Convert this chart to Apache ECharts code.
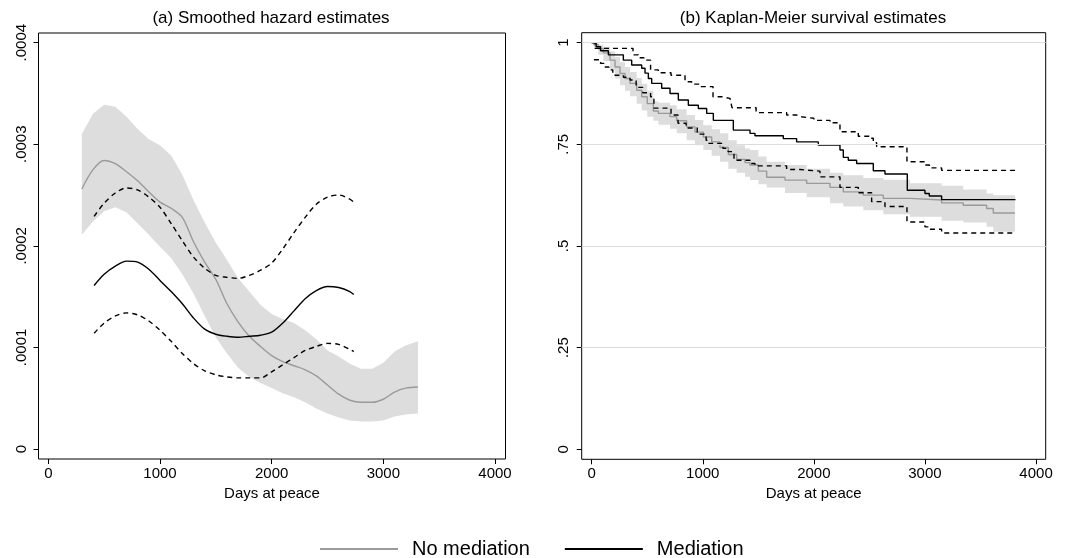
<!DOCTYPE html>
<html><head><meta charset="utf-8">
<script src="https://cdn.jsdelivr.net/npm/echarts@6/dist/echarts.min.js"></script>
<style>html,body{margin:0;padding:0;background:#fff}#c{width:1083px;height:558px}</style>
</head><body><div id="c"></div>
<script>
// ---- tick labels ----
const xTicks = [0, 1000, 2000, 3000, 4000];
const hazYTicks = [0, 0.0001, 0.0002, 0.0003, 0.0004];
const hazYLabels = ['0', '.0001', '.0002', '.0003', '.0004'];
const kmYTicks = [0, 0.25, 0.5, 0.75, 1];
const kmYLabels = ['0', '.25', '.5', '.75', '1'];
const kmGridVals = [0.25, 0.5, 0.75, 1];

// ---- (a) smoothed hazard: no mediation ----
const hazNoMedDays = [300,400,500,600,700,800,900,1000,1100,1200,1300,1400,1500,1600,1700,1800,1900,2000,2100,2200,2300,2400,2500,2600,2700,2800,2900,3000,3100,3200,3310];
const hazNoMed   = [2.56e-4,2.75e-4,2.84e-4,2.81e-4,2.73e-4,2.64e-4,2.53e-4,2.43e-4,2.37e-4,2.28e-4,2.04e-4,1.84e-4,1.67e-4,1.43e-4,1.25e-4,1.11e-4,1.01e-4,0.92e-4,0.86e-4,0.82e-4,0.78e-4,0.72e-4,0.63e-4,0.54e-4,0.48e-4,0.46e-4,0.46e-4,0.49e-4,0.56e-4,0.60e-4,0.61e-4];
const hazNoMedHi = [3.10e-4,3.30e-4,3.39e-4,3.37e-4,3.27e-4,3.15e-4,3.05e-4,2.99e-4,2.89e-4,2.70e-4,2.45e-4,2.23e-4,2.03e-4,1.86e-4,1.68e-4,1.55e-4,1.42e-4,1.33e-4,1.28e-4,1.24e-4,1.17e-4,1.08e-4,0.97e-4,0.91e-4,0.84e-4,0.79e-4,0.79e-4,0.85e-4,0.96e-4,1.02e-4,1.06e-4];
const hazNoMedLo = [2.11e-4,2.24e-4,2.34e-4,2.38e-4,2.33e-4,2.22e-4,2.11e-4,1.99e-4,1.88e-4,1.72e-4,1.53e-4,1.31e-4,1.10e-4,0.94e-4,0.80e-4,0.71e-4,0.65e-4,0.60e-4,0.55e-4,0.51e-4,0.46e-4,0.40e-4,0.35e-4,0.31e-4,0.28e-4,0.27e-4,0.27e-4,0.28e-4,0.32e-4,0.34e-4,0.35e-4];

// ---- (a) smoothed hazard: mediation ----
const hazMedDays = [410,500,600,700,800,900,1000,1100,1200,1300,1400,1500,1600,1700,1800,1900,2000,2100,2200,2300,2400,2500,2600,2700,2735];
const hazMed   = [1.61e-4,1.72e-4,1.80e-4,1.85e-4,1.84e-4,1.77e-4,1.66e-4,1.55e-4,1.43e-4,1.29e-4,1.18e-4,1.13e-4,1.11e-4,1.10e-4,1.11e-4,1.12e-4,1.15e-4,1.24e-4,1.36e-4,1.48e-4,1.56e-4,1.60e-4,1.59e-4,1.55e-4,1.52e-4];
const hazMedHi = [2.29e-4,2.42e-4,2.52e-4,2.57e-4,2.55e-4,2.48e-4,2.38e-4,2.22e-4,2.05e-4,1.89e-4,1.78e-4,1.71e-4,1.69e-4,1.68e-4,1.71e-4,1.76e-4,1.83e-4,1.97e-4,2.13e-4,2.28e-4,2.41e-4,2.48e-4,2.50e-4,2.46e-4,2.43e-4];
const hazMedLo = [1.14e-4,1.24e-4,1.31e-4,1.34e-4,1.32e-4,1.26e-4,1.17e-4,1.06e-4,0.94e-4,0.84e-4,0.77e-4,0.73e-4,0.71e-4,0.70e-4,0.70e-4,0.70e-4,0.76e-4,0.83e-4,0.90e-4,0.97e-4,1.01e-4,1.04e-4,1.03e-4,0.98e-4,0.96e-4];

// ---- (b) Kaplan-Meier: no mediation ----
const kmNoMedDays = [0,20,60,105,165,210,255,300,345,405,450,500,555,600,705,765,855,930,1005,1080,1155,1230,1305,1380,1425,1500,1575,1740,1935,2145,2265,2445,2625,2865,3150,3345,3555,3615,3810];
const kmNoMed   = [1,0.995,0.985,0.975,0.957,0.940,0.924,0.912,0.900,0.883,0.867,0.850,0.832,0.826,0.818,0.808,0.793,0.780,0.768,0.756,0.742,0.725,0.713,0.705,0.699,0.684,0.669,0.662,0.654,0.644,0.633,0.625,0.617,0.613,0.606,0.600,0.592,0.581,0.581];
const kmNoMedHi = [1,1.000,0.995,0.990,0.978,0.965,0.952,0.940,0.928,0.913,0.899,0.882,0.855,0.852,0.846,0.836,0.822,0.810,0.797,0.787,0.777,0.760,0.748,0.740,0.736,0.720,0.707,0.699,0.690,0.680,0.674,0.667,0.663,0.654,0.648,0.639,0.629,0.625,0.625];
const kmNoMedLo = [1,0.985,0.970,0.955,0.932,0.912,0.895,0.882,0.868,0.850,0.833,0.818,0.808,0.798,0.788,0.777,0.760,0.748,0.736,0.722,0.707,0.690,0.680,0.670,0.662,0.652,0.644,0.630,0.620,0.605,0.597,0.588,0.578,0.572,0.562,0.558,0.547,0.535,0.535];

// ---- (b) Kaplan-Meier: mediation ----
const kmMedDays = [0,40,80,150,285,360,450,480,510,540,630,705,780,870,960,1035,1095,1275,1425,1470,1725,1845,2040,2235,2265,2310,2385,2535,2640,2841,3000,3039,3150,3815];
const kmMed = [1,0.990,0.980,0.970,0.957,0.945,0.937,0.925,0.912,0.900,0.888,0.875,0.859,0.846,0.838,0.826,0.809,0.785,0.777,0.771,0.764,0.756,0.748,0.736,0.718,0.711,0.703,0.685,0.677,0.637,0.629,0.623,0.614,0.614];
const kmMedHiDays = [0,30,372,420,470,530,600,714,840,900,966,1092,1170,1245,1263,1480,1755,1845,1875,2000,2145,2235,2400,2505,2535,2565,2838,3000,3040,3150,3815];
const kmMedHi = [1,0.986,0.970,0.963,0.957,0.933,0.926,0.920,0.904,0.898,0.892,0.867,0.863,0.859,0.840,0.828,0.822,0.818,0.814,0.809,0.803,0.781,0.770,0.765,0.754,0.744,0.707,0.699,0.692,0.686,0.686];
const kmMedLoDays = [20,80,120,155,190,285,345,400,460,530,560,714,777,850,950,1030,1056,1182,1228,1281,1425,1470,1755,1875,2055,2235,2400,2520,2640,2838,3000,3040,3150,3815];
const kmMedLo = [0.958,0.949,0.940,0.933,0.920,0.915,0.908,0.890,0.877,0.867,0.839,0.822,0.802,0.790,0.775,0.760,0.752,0.740,0.732,0.711,0.703,0.697,0.688,0.684,0.670,0.644,0.631,0.609,0.597,0.559,0.547,0.541,0.532,0.532];

const FONT = "'Liberation Sans', Arial, sans-serif";
const GRAY = '#9a9a9a', BAND = '#dddddd', BLACK = '#000000';
const pairs = (xs, ys) => xs.map((x, i) => [x, ys[i]]);
const lab = (ticks, labels) => v => { const i = ticks.findIndex(t => Math.abs(t - v) < 1e-9); return i >= 0 ? labels[i] : ''; };

function xAx(gi, min, max) {
  return {
    gridIndex: gi, type: 'value', min: min, max: max,
    axisLine: { show: false, onZero: false },
    axisTick: { show: true, inside: false, length: 5, customValues: xTicks, lineStyle: { color: '#000', width: 1 } },
    axisLabel: { customValues: xTicks, formatter: v => String(Math.round(v)), fontSize: 15, color: '#000', fontFamily: FONT, margin: 7 },
    splitLine: { show: false },
    name: 'Days at peace', nameLocation: 'middle', nameGap: 25,
    nameTextStyle: { fontSize: 15, color: '#000', fontFamily: FONT }
  };
}
function yAx(gi, min, max, ticks, labels, margin) {
  return {
    gridIndex: gi, type: 'value', min: min, max: max,
    axisLine: { show: false, onZero: false },
    axisTick: { show: true, inside: false, length: 5, customValues: ticks, lineStyle: { color: '#000', width: 1 } },
    axisLabel: { customValues: ticks, formatter: lab(ticks, labels), rotate: 90, fontSize: 15, color: '#000', fontFamily: FONT, margin: margin },
    splitLine: { show: false }
  };
}
const lineS = (name, gi, data, color, dashed, step, z) => ({
  name: name, type: 'line', xAxisIndex: gi, yAxisIndex: gi, data: data,
  showSymbol: false, symbol: 'none', step: step || false, smooth: step ? false : 0.3,
  lineStyle: { color: color, width: 1.4, type: dashed ? [5, 4] : 'solid' },
  itemStyle: { color: color }, z: z || 4, silent: true
});
// confidence band drawn as one polygon through the axes' coordinate mapping
function bandS(gi, xs, hi, lo, step) {
  return {
    name: 'band', type: 'custom', xAxisIndex: gi, yAxisIndex: gi, z: 2, silent: true,
    data: xs.map((x, i) => [x, lo[i], hi[i]]),
    encode: { x: 0, y: [1, 2] },
    renderItem: (params, api) => {
      if (params.dataIndex !== 0) return null;
      const top = [], bot = [];
      for (let i = 0; i < xs.length; i++) {
        top.push(api.coord([xs[i], hi[i]]));
        bot.push(api.coord([xs[i], lo[i]]));
        if (step && i < xs.length - 1) {
          top.push(api.coord([xs[i + 1], hi[i]]));
          bot.push(api.coord([xs[i + 1], lo[i]]));
        }
      }
      return { type: 'polygon', shape: { points: top.concat(bot.reverse()) }, style: { fill: BAND, stroke: null } };
    }
  };
}

const chart = echarts.init(document.getElementById('c'), null, { renderer: 'canvas' });
chart.setOption({
  animation: false,
  backgroundColor: '#fff',
  textStyle: { fontFamily: FONT },
  title: [
    { text: '(a) Smoothed hazard estimates', left: 271, top: 10, textAlign: 'center', padding: 0,
      textStyle: { fontSize: 17, fontWeight: 'normal', color: '#000', fontFamily: FONT } },
    { text: '(b) Kaplan-Meier survival estimates', left: 813, top: 10, textAlign: 'center', padding: 0,
      textStyle: { fontSize: 17, fontWeight: 'normal', color: '#000', fontFamily: FONT } }
  ],
  legend: {
    data: [{ name: 'No mediation' }, { name: 'Mediation' }],
    left: 320, top: 539, icon: 'rect', itemWidth: 78, itemHeight: 2, itemGap: 35,
    selectedMode: false, padding: 0,
    textStyle: { fontSize: 20, color: '#000', fontFamily: FONT, padding: [0, 0, 0, 9] }
  },
  grid: [
    { left: 38.5, top: 33, width: 467, height: 426, show: true, borderColor: '#000', borderWidth: 1, backgroundColor: 'transparent' },
    { left: 581.7, top: 32.7, width: 464, height: 426.6, show: true, borderColor: '#000', borderWidth: 1, backgroundColor: 'transparent' }
  ],
  xAxis: [xAx(0, -88, 4094), xAx(1, -90, 4087)],
  yAxis: [yAx(0, -0.0000098, 0.0004095, hazYTicks, hazYLabels, 9), yAx(1, -0.0246, 1.0245, kmYTicks, kmYLabels, 10)],
  series: [
    { name: 'grid', type: 'line', xAxisIndex: 1, yAxisIndex: 1, data: [], z: 1, silent: true,
      markLine: { silent: true, symbol: 'none', label: { show: false }, animation: false,
        lineStyle: { color: '#dcdcdc', width: 1, type: 'solid' },
        data: kmGridVals.map(v => ({ yAxis: v })) } },
    bandS(0, hazNoMedDays, hazNoMedHi, hazNoMedLo, false),
    lineS('No mediation', 0, pairs(hazNoMedDays, hazNoMed), GRAY, false, false, 3),
    lineS('Mediation', 0, pairs(hazMedDays, hazMed), BLACK, false, false, 4),
    lineS('medhi', 0, pairs(hazMedDays, hazMedHi), BLACK, true, false, 4),
    lineS('medlo', 0, pairs(hazMedDays, hazMedLo), BLACK, true, false, 4),
    bandS(1, kmNoMedDays, kmNoMedHi, kmNoMedLo, true),
    lineS('No mediation', 1, pairs(kmNoMedDays, kmNoMed), GRAY, false, 'end', 3),
    lineS('Mediation', 1, pairs(kmMedDays, kmMed), BLACK, false, 'end', 4),
    lineS('kmhi', 1, pairs(kmMedHiDays, kmMedHi), BLACK, true, 'end', 4),
    lineS('kmlo', 1, pairs(kmMedLoDays, kmMedLo), BLACK, true, 'end', 4)
  ]
});
</script>
</body></html>
